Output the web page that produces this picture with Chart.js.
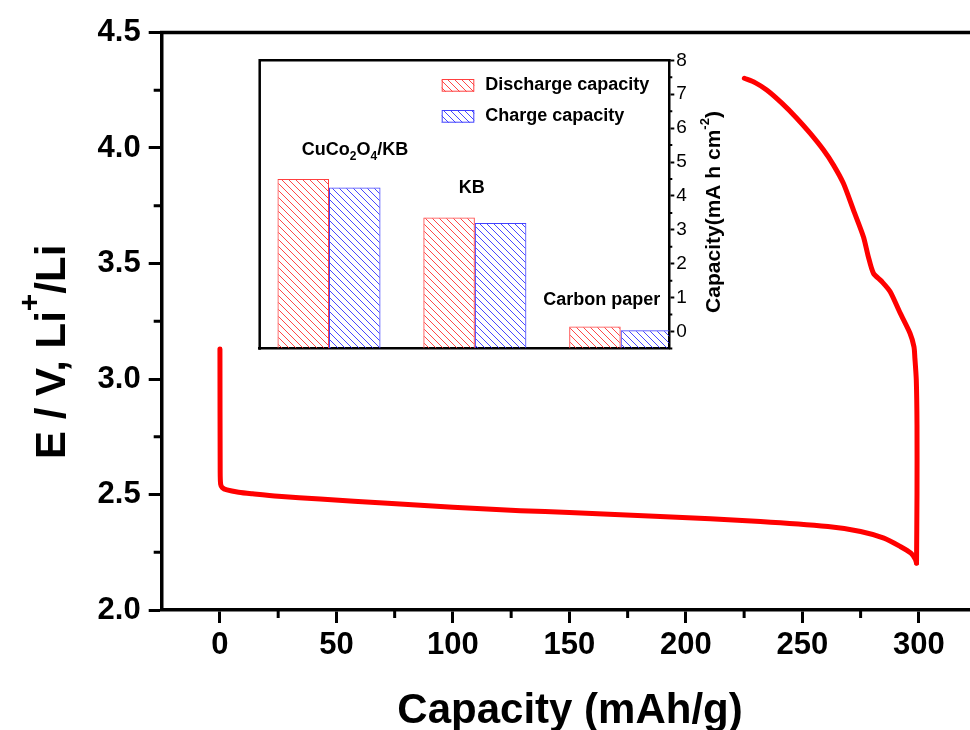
<!DOCTYPE html>
<html>
<head>
<meta charset="utf-8">
<script src="https://cdn.jsdelivr.net/npm/chart.js@4.4.1/dist/chart.umd.min.js"></script>
<style>
  html, body { margin: 0; padding: 0; background: #fff; overflow: hidden; width: 970px; height: 730px; }
  #main { position: absolute; left: 0; top: 0; }
  #inset { position: absolute; left: 245px; top: 45px; }
</style>
</head>
<body>
<canvas id="main" width="980" height="730"></canvas>
<canvas id="inset" width="500" height="320"></canvas>
<script>
// ---------- main chart data ----------
const dischargeX = [0, 0.1, 0.3, 1, 3, 8, 14, 25, 43, 72, 100, 129, 150, 189, 232, 261, 275, 285, 292, 296.6, 298.5, 299];
const dischargeY = [3.13, 2.60, 2.545, 2.53, 2.52, 2.51, 2.503, 2.492, 2.48, 2.462, 2.445, 2.43, 2.422, 2.405, 2.383, 2.361, 2.34, 2.311, 2.275, 2.246, 2.22, 2.203];
const chargeX = [299, 299.2, 299.2, 298.9, 298.3, 297.9, 296.2, 292.0, 287.7, 284.1, 280.5, 278.3, 276.2, 271.9, 267.6, 263.3, 259.0, 253.3, 247.6, 241.2, 234.7, 229.7, 225.1];
const chargeY = [2.203, 2.5, 2.8, 2.996, 3.09, 3.14, 3.198, 3.285, 3.378, 3.422, 3.458, 3.530, 3.616, 3.732, 3.847, 3.927, 3.992, 4.064, 4.129, 4.194, 4.251, 4.283, 4.302];

const xTicks = [0, 50, 100, 150, 200, 250, 300];
const xMinorTicks = [25, 75, 125, 175, 225, 275, 325];
const yTicks = [2.0, 2.5, 3.0, 3.5, 4.0, 4.5];
const yMinorTicks = [2.25, 2.75, 3.25, 3.75, 4.25];

// ---------- inset data ----------
const categories = ['CuCo2O4/KB', 'KB', 'Carbon paper'];
const dischargeCap = [4.50, 3.36, 0.15];
const chargeCap = [4.25, 3.20, 0.04];
const insetTicks = [0, 1, 2, 3, 4, 5, 6, 7, 8];
const insetMinorTicks = [-0.5, 0.5, 1.5, 2.5, 3.5, 4.5, 5.5, 6.5, 7.5];
const seriesNames = ['Discharge capacity', 'Charge capacity'];

const FF = '"Liberation Sans", Arial, Helvetica, sans-serif';
Chart.defaults.font.family = FF;
Chart.defaults.color = '#000';

const pts = (xs, ys) => xs.map((x, i) => ({ x: x, y: ys[i] }));

// ---------------- main chart ----------------
const mainDecor = {
  id: 'mainDecor',
  afterDraw(chart) {
    const ctx = chart.ctx;
    const { left, top, right, bottom } = chart.chartArea;
    const xs = chart.scales.x, ys = chart.scales.y;
    ctx.save();
    ctx.strokeStyle = '#000';
    ctx.lineWidth = 3.5;
    ctx.beginPath();
    ctx.moveTo(left - 1.75, top);
    ctx.lineTo(right, top);
    ctx.lineTo(right, bottom);
    ctx.stroke();
    // minor ticks
    ctx.lineWidth = 3;
    ctx.beginPath();
    xMinorTicks.forEach(v => {
      const p = xs.getPixelForValue(v);
      ctx.moveTo(p, bottom);
      ctx.lineTo(p, bottom + 8);
    });
    yMinorTicks.forEach(v => {
      const p = ys.getPixelForValue(v);
      ctx.moveTo(left, p);
      ctx.lineTo(left - 8, p);
    });
    ctx.stroke();
    // x title
    ctx.fillStyle = '#000';
    ctx.font = 'bold 42px ' + FF;
    ctx.textAlign = 'center';
    ctx.textBaseline = 'alphabetic';
    ctx.fillText('Capacity (mAh/g)', 570, 723);
    // y title with superscript
    ctx.translate(65, 459);
    ctx.rotate(-Math.PI / 2);
    ctx.textAlign = 'left';
    ctx.font = 'bold 42px ' + FF;
    const t1 = 'E / V, Li';
    ctx.fillText(t1, 0, 0);
    const w1 = ctx.measureText(t1).width;
    ctx.font = 'bold 30px ' + FF;
    ctx.fillText('+', w1, -26);
    const w2 = ctx.measureText('+').width;
    ctx.font = 'bold 42px ' + FF;
    ctx.fillText('/Li', w1 + w2, 0);
    ctx.restore();
  }
};

new Chart(document.getElementById('main'), {
  type: 'line',
  data: {
    datasets: [
      { data: pts(dischargeX, dischargeY), borderColor: '#ff0000', borderWidth: 5, pointRadius: 0, tension: 0.25,
        borderCapStyle: 'round', borderJoinStyle: 'round' },
      { data: pts(chargeX, chargeY), borderColor: '#ff0000', borderWidth: 5, pointRadius: 0, tension: 0.25,
        borderCapStyle: 'round', borderJoinStyle: 'round' }
    ]
  },
  options: {
    responsive: false,
    animation: false,
    layout: { padding: { left: 0, top: 32.5, right: 2.9, bottom: 0 } },
    plugins: { legend: { display: false }, tooltip: { enabled: false } },
    scales: {
      x: {
        type: 'linear', min: -25, max: 325,
        afterBuildTicks: s => { s.ticks = xTicks.map(v => ({ value: v })); },
        afterFit: s => { s.height = 120; },
        ticks: { autoSkip: false, maxRotation: 0, padding: 4, font: { size: 31, weight: 'bold' }, color: '#000' },
        grid: { display: true, drawOnChartArea: false, drawTicks: true, tickLength: 13, tickWidth: 3, tickColor: '#000' },
        border: { display: true, width: 3.5, color: '#000' }
      },
      y: {
        type: 'linear', min: 2.0, max: 4.5,
        afterBuildTicks: s => { s.ticks = yTicks.map(v => ({ value: v })); },
        afterFit: s => { s.width = 161.7; },
        ticks: { autoSkip: false, padding: 8, font: { size: 31, weight: 'bold' }, color: '#000',
          callback: v => Number(v).toFixed(1) },
        grid: { display: true, drawOnChartArea: false, drawTicks: true, tickLength: 13, tickWidth: 3, tickColor: '#000' },
        border: { display: true, width: 3.5, color: '#000' }
      }
    }
  },
  plugins: [mainDecor]
});

// ---------------- inset chart ----------------
function hatch(color) {
  const c = document.createElement('canvas');
  const n = 7;
  c.width = n; c.height = n;
  const g = c.getContext('2d');
  g.strokeStyle = color;
  g.lineWidth = 1;
  g.beginPath();
  g.moveTo(-2, -2); g.lineTo(n + 2, n + 2);
  g.moveTo(-2, n - 2); g.lineTo(2, n + 2);
  g.moveTo(n - 2, -2); g.lineTo(n + 2, 2);
  g.stroke();
  return g.createPattern(c, 'repeat');
}
const redHatch = hatch('rgba(255,40,40,0.85)');
const blueHatch = hatch('rgba(40,40,255,0.85)');
const redEdge = '#ff4040';
const blueEdge = '#4040ff';

// label anchors (data units: x = group position, y = baseline value)
const labelAnchors = [{ x: 1.178, y: 5.22 }, { x: 1.979, y: 4.08 }, { x: 2.87, y: 0.77 }];

function drawRich(ctx, parts, x, y, align) {
  let total = 0;
  parts.forEach(p => { ctx.font = 'bold ' + p[1] + 'px ' + FF; total += ctx.measureText(p[0]).width; });
  let cx = align === 'center' ? x - total / 2 : x;
  ctx.textAlign = 'left';
  parts.forEach(p => {
    ctx.font = 'bold ' + p[1] + 'px ' + FF;
    ctx.fillText(p[0], cx, y + p[2]);
    cx += ctx.measureText(p[0]).width;
  });
}

function labelParts(name) {
  if (name === 'CuCo2O4/KB') {
    return [['CuCo', 18, 0], ['2', 12, 5], ['O', 18, 0], ['4', 12, 5], ['/KB', 18, 0]];
  }
  return [[name, 18, 0]];
}

const insetDecor = {
  id: 'insetDecor',
  afterDraw(chart) {
    const ctx = chart.ctx;
    const { left, top, right, bottom } = chart.chartArea;
    const xs = chart.scales.x, ys = chart.scales.y;
    ctx.save();
    ctx.strokeStyle = '#000';
    ctx.lineWidth = 2.5;
    ctx.beginPath();
    ctx.moveTo(left, bottom + 1.25);
    ctx.lineTo(left, top);
    ctx.lineTo(right + 1.25, top);
    ctx.stroke();
    // minor ticks on right axis
    ctx.lineWidth = 2;
    ctx.beginPath();
    insetMinorTicks.forEach(v => {
      const p = ys.getPixelForValue(v);
      ctx.moveTo(right, p);
      ctx.lineTo(right + 3, p);
    });
    ctx.stroke();
    // legend
    const fills = [redHatch, blueHatch], edges = [redEdge, blueEdge];
    const sx = left + 182, sw = 32.6, sh = 12.7;
    const rows = [top + 18.7, top + 49.7];
    ctx.textBaseline = 'middle';
    chart.data.datasets.forEach((ds, i) => {
      ctx.fillStyle = fills[i];
      ctx.fillRect(sx, rows[i], sw, sh);
      ctx.strokeStyle = edges[i];
      ctx.lineWidth = 1;
      ctx.strokeRect(sx + 0.5, rows[i] + 0.5, sw - 1, sh - 1);
      ctx.fillStyle = '#000';
      ctx.font = 'bold 18px ' + FF;
      ctx.textAlign = 'left';
      ctx.fillText(ds.label, sx + 43.5, rows[i] + sh / 2);
    });
    // category labels
    ctx.textBaseline = 'alphabetic';
    ctx.fillStyle = '#000';
    categories.forEach((c, i) => {
      const a = labelAnchors[i];
      drawRich(ctx, labelParts(c), xs.getPixelForValue(a.x), ys.getPixelForValue(a.y), 'center');
    });
    // right axis title
    ctx.translate(475, 167);
    ctx.rotate(-Math.PI / 2);
    drawRich(ctx, [['Capacity(mA h cm', 21, 0], ['-2', 13, -11], [')', 21, 0]], 0, 0, 'center');
    ctx.restore();
  }
};

new Chart(document.getElementById('inset'), {
  type: 'bar',
  data: {
    datasets: [
      { label: seriesNames[0], data: dischargeCap.map((v, i) => ({ x: i + 1, y: v })),
        backgroundColor: redHatch, borderColor: redEdge, borderWidth: 1, base: -0.5,
        barPercentage: 1, categoryPercentage: 0.7065 },
      { label: seriesNames[1], data: chargeCap.map((v, i) => ({ x: i + 1, y: v })),
        backgroundColor: blueHatch, borderColor: blueEdge, borderWidth: 1, base: -0.5,
        barPercentage: 1, categoryPercentage: 0.7065 }
    ]
  },
  options: {
    responsive: false,
    animation: false,
    layout: { padding: { left: 14.7, top: 15.3, right: 0, bottom: 0 } },
    plugins: { legend: { display: false }, tooltip: { enabled: false } },
    scales: {
      x: {
        type: 'linear', min: 0.5249, max: 3.3332, offset: false,
        afterBuildTicks: s => { s.ticks = categories.map((c, i) => ({ value: i + 1 })); },
        afterFit: s => { s.height = 16.5; },
        ticks: { display: false },
        grid: { display: false },
        border: { display: true, width: 2.5, color: '#000' }
      },
      y: {
        type: 'linear', position: 'right', min: -0.5, max: 8,
        afterBuildTicks: s => { s.ticks = insetTicks.map(v => ({ value: v })); },
        afterFit: s => { s.width = 75.7; },
        ticks: { autoSkip: false, padding: 2, font: { size: 19 }, color: '#000' },
        grid: { display: true, drawOnChartArea: false, drawTicks: true, tickLength: 5, tickWidth: 2, tickColor: '#000' },
        border: { display: true, width: 2.5, color: '#000' }
      }
    }
  },
  plugins: [insetDecor]
});
</script>
</body>
</html>
